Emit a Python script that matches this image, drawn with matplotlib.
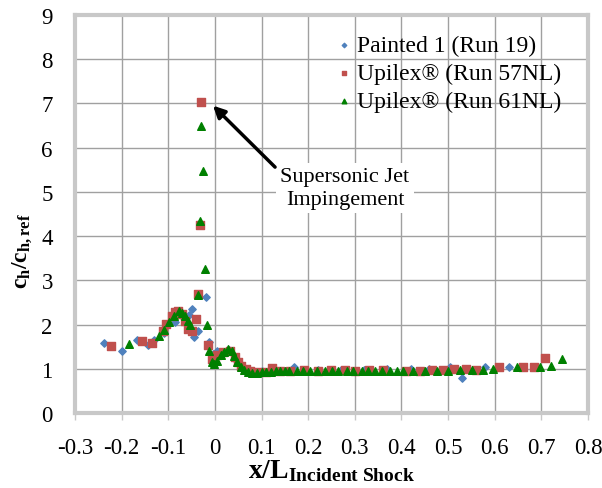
import matplotlib.pyplot as plt

plt.rcParams['font.family'] = ['Liberation Serif', 'DejaVu Serif']
plt.rcParams['mathtext.fontset'] = 'custom'
plt.rcParams['mathtext.rm'] = 'Liberation Serif'
plt.rcParams['mathtext.it'] = 'Liberation Serif:italic'
plt.rcParams['mathtext.bf'] = 'Liberation Serif:bold'

# Painted 1 (Run 19)
p19_x = [-0.237, -0.200, -0.167, -0.144, -0.131, -0.110, -0.086, -0.070, -0.055, -0.050,
         -0.044, -0.036, -0.020, -0.013, -0.004, 0.004, 0.015, 0.030, 0.045, 0.060,
         0.080, 0.100, 0.130, 0.170, 0.220, 0.270, 0.320, 0.370, 0.420, 0.460,
         0.504, 0.530, 0.580, 0.630]
p19_y = [1.58, 1.40, 1.65, 1.54, 1.65, 1.80, 2.05, 2.20, 2.22, 2.35,
         1.71, 1.86, 2.63, 1.60, 1.33, 1.41, 1.38, 1.42, 1.20, 1.00,
         0.93, 0.94, 0.96, 1.05, 0.98, 0.98, 0.98, 0.99, 0.99, 1.00,
         1.05, 0.78, 1.03, 1.05]

# Upilex (Run 57NL)
u57_x = [-0.222, -0.157, -0.135, -0.111, -0.104, -0.093, -0.086, -0.079, -0.071, -0.064,
         -0.057, -0.050, -0.041, -0.037, -0.032, -0.029, -0.014, -0.007, 0.005, 0.018,
         0.032, 0.043, 0.050, 0.057, 0.066, 0.075, 0.090, 0.110, 0.122, 0.140,
         0.160, 0.190, 0.220, 0.250, 0.280, 0.300, 0.330, 0.360, 0.410, 0.440,
         0.465, 0.490, 0.513, 0.539, 0.560, 0.610, 0.660, 0.685, 0.708]
u57_y = [1.51, 1.62, 1.58, 1.86, 2.01, 2.20, 2.28, 2.30, 2.24, 2.09,
         1.90, 1.86, 2.13, 2.69, 4.25, 7.04, 1.54, 1.22, 1.30, 1.37,
         1.41, 1.26, 1.15, 1.07, 1.00, 0.96, 0.93, 0.93, 1.01, 0.95,
         0.96, 0.97, 0.96, 0.98, 0.97, 0.96, 0.97, 0.97, 0.96, 0.96,
         0.98, 0.98, 0.995, 1.00, 0.98, 1.05, 1.05, 1.05, 1.25]

# Upilex (Run 61NL)
u61_x = [-0.184, -0.120, -0.110, -0.099, -0.088, -0.077, -0.070, -0.064, -0.058, -0.054,
         -0.036, -0.032, -0.029, -0.026, -0.021, -0.018, -0.013, -0.007, -0.003, 0.005,
         0.012, 0.020, 0.029, 0.036, 0.042, 0.048, 0.055, 0.062, 0.070, 0.080,
         0.090, 0.100, 0.110, 0.120, 0.130, 0.140, 0.150, 0.159, 0.176, 0.189,
         0.204, 0.219, 0.236, 0.251, 0.264, 0.283, 0.296, 0.315, 0.328, 0.343,
         0.358, 0.376, 0.391, 0.403, 0.425, 0.451, 0.476, 0.500, 0.526, 0.552,
         0.575, 0.597, 0.647, 0.697, 0.720, 0.745]
u61_y = [1.56, 1.73, 1.88, 2.05, 2.20, 2.31, 2.27, 2.20, 2.08, 1.98,
         2.67, 4.35, 6.50, 5.48, 3.26, 1.98, 1.41, 1.15, 1.10, 1.18,
         1.30, 1.38, 1.45, 1.40, 1.28, 1.15, 1.05, 0.98, 0.93, 0.90,
         0.91, 0.92, 0.93, 0.93, 0.94, 0.95, 0.96, 0.96, 0.95, 0.96,
         0.95, 0.96, 0.95, 0.96, 0.95, 0.96, 0.95, 0.96, 0.96, 0.96,
         0.96, 0.95, 0.96, 0.96, 0.96, 0.96, 0.95, 0.96, 0.97, 0.97,
         0.98, 1.00, 1.05, 1.05, 1.07, 1.21]

fig = plt.figure(figsize=(6.02, 4.89), dpi=100)
ax = fig.add_axes([0.1246, 0.1534, 0.8521, 0.8139])

ax.scatter(p19_x, p19_y, marker='D', s=14, color='#4F81BD', label='Painted 1 (Run 19)', zorder=3)
ax.scatter(u57_x, u57_y, marker='s', s=26, color='#C0504D', label='Upilex® (Run 57NL)', zorder=4)
ax.scatter(u61_x, u61_y, marker='^', s=30, color='#008000', label='Upilex® (Run 61NL)', zorder=5)

ax.set_xlim(-0.3, 0.8)
ax.set_ylim(0, 9)
ax.set_xticks([-0.3, -0.2, -0.1, 0, 0.1, 0.2, 0.3, 0.4, 0.5, 0.6, 0.7, 0.8])
ax.set_xticklabels(['-0.3', '-0.2', '-0.1', '0', '0.1', '0.2', '0.3', '0.4', '0.5', '0.6', '0.7', '0.8'])
ax.set_yticks(range(10))
ax.grid(True, color='#a0a0a0', linewidth=1.0)
ax.set_axisbelow(True)
for s in ax.spines.values():
    s.set_color('#c8c8c8')
    s.set_linewidth(3)
ax.tick_params(axis='x', length=5, color='#c8c8c8', width=1, labelsize=16.5, pad=12)
ax.tick_params(axis='y', length=0, labelsize=16.5, pad=16)

ax.set_xlabel(r'$\mathbf{x/L_{Incident\ Shock}}$', fontsize=20, labelpad=0)
ax.set_ylabel(r'$\mathbf{c_{h}/c_{h,ref}}$', fontsize=17)
ax.yaxis.set_label_coords(-0.08, 0.41)

# label and arrow
ax.text(0.279, 5.09, 'Supersonic Jet\nImpingement', ha='center', va='center', fontsize=16,
        linespacing=1.25, bbox=dict(boxstyle='square,pad=0.2', fc='white', ec='none'))
ax.annotate('', xy=(-0.004, 6.95), xytext=(0.129, 5.56),
            arrowprops=dict(arrowstyle='-|>,head_width=0.35,head_length=0.7', color='black',
                            lw=2.5, shrinkA=0, shrinkB=0))

ax.legend(loc='upper right', frameon=False, fontsize=17, markerscale=0.6,
          handletextpad=0.1, labelspacing=0.28, borderaxespad=0.5, handlelength=0.9,
          bbox_to_anchor=(0.99, 1.005))

fig.savefig('out.png', dpi=100)
